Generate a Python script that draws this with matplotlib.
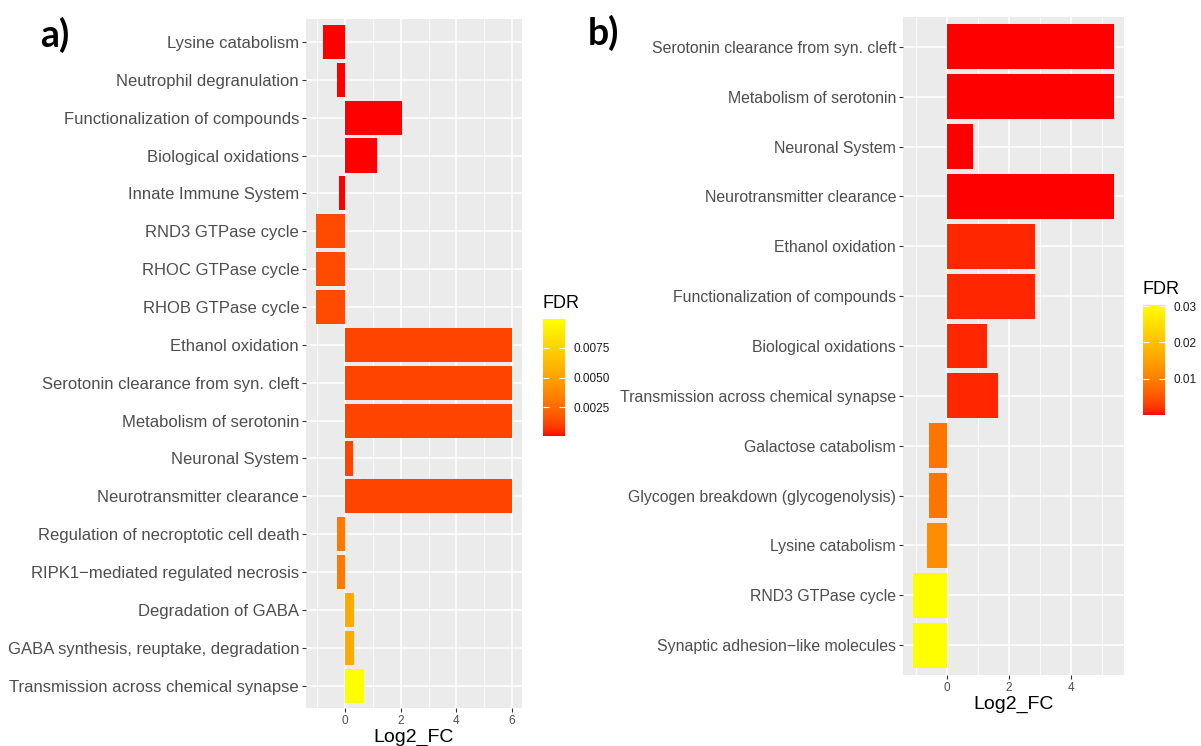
import numpy as np
import matplotlib
matplotlib.use("Agg")
import matplotlib.pyplot as plt
from matplotlib.colors import ListedColormap, Normalize
from matplotlib.cm import ScalarMappable

plt.rcParams['font.family'] = ['Liberation Sans', 'DejaVu Sans']

# panel a: enriched pathways (top to bottom)
terms_a = ["Lysine catabolism", "Neutrophil degranulation",
           "Functionalization of compounds", "Biological oxidations",
           "Innate Immune System", "RND3 GTPase cycle", "RHOC GTPase cycle",
           "RHOB GTPase cycle", "Ethanol oxidation",
           "Serotonin clearance from syn. cleft", "Metabolism of serotonin",
           "Neuronal System", "Neurotransmitter clearance",
           "Regulation of necroptotic cell death",
           "RIPK1\u2212mediated regulated necrosis", "Degradation of GABA",
           "GABA synthesis, reuptake, degradation",
           "Transmission across chemical synapse"]
fc_a = [-0.78, -0.3, 2.05, 1.15, -0.2, -1.05, -1.05, -1.05,
        6.0, 6.0, 6.0, 0.3, 6.0, -0.3, -0.3, 0.33, 0.33, 0.68]
fdr_a = [0.0001, 0.0001, 0.0001, 0.0001, 0.0001, 0.0014, 0.0014, 0.0014,
         0.0012, 0.0012, 0.0012, 0.0012, 0.0012, 0.0031, 0.0031,
         0.0054, 0.0054, 0.0099]

# panel b
terms_b = ["Serotonin clearance from syn. cleft", "Metabolism of serotonin",
           "Neuronal System", "Neurotransmitter clearance",
           "Ethanol oxidation", "Functionalization of compounds",
           "Biological oxidations", "Transmission across chemical synapse",
           "Galactose catabolism", "Glycogen breakdown (glycogenolysis)",
           "Lysine catabolism", "RND3 GTPase cycle",
           "Synaptic adhesion\u2212like molecules"]
fc_b = [5.4, 5.4, 0.85, 5.4, 2.85, 2.85, 1.3, 1.65,
        -0.6, -0.6, -0.65, -1.1, -1.1]
fdr_b = [0.0001, 0.0001, 0.0001, 0.0001, 0.0013, 0.0013, 0.0013, 0.0013,
         0.0089, 0.0089, 0.0122, 0.0303, 0.0303]

# red -> yellow gradient interpolated in CIE Lab, like ggplot's scale_fill_gradient
WHITE = np.array([0.95047, 1.0, 1.08883])
M = np.array([[0.4124, 0.3576, 0.1805],
              [0.2126, 0.7152, 0.0722],
              [0.0193, 0.1192, 0.9505]])


def to_lab(rgb):
    c = np.asarray(rgb, float)
    lin = np.where(c > 0.04045, ((c + 0.055) / 1.055) ** 2.4, c / 12.92)
    xyz = M @ lin / WHITE
    f = np.where(xyz > 0.008856, np.cbrt(xyz), 7.787 * xyz + 16 / 116)
    return np.array([116 * f[1] - 16, 500 * (f[0] - f[1]), 200 * (f[1] - f[2])])


def from_lab(lab):
    fy = (lab[:, 0] + 16) / 116
    f = np.stack([fy + lab[:, 1] / 500, fy, fy - lab[:, 2] / 200], axis=1)
    xyz = np.where(f > 0.2069, f ** 3, (f - 16 / 116) / 7.787) * WHITE
    lin = np.clip(xyz @ np.linalg.inv(M).T, 0, 1)
    return np.where(lin > 0.0031308, 1.055 * lin ** (1 / 2.4) - 0.055, 12.92 * lin)


t = np.linspace(0, 1, 256)[:, None]
lab_lo, lab_hi = to_lab([1, 0, 0]), to_lab([1, 1, 0])
cmap = ListedColormap(np.clip(from_lab(lab_lo + t * (lab_hi - lab_lo)), 0, 1))


def bar_panel(ax, cax, terms, fc, fdr, xticks, cticks, cfmt, lblsize):
    n = len(terms)
    y = np.arange(n)
    norm = Normalize(vmin=min(fdr), vmax=max(fdr))
    ax.barh(y, fc, height=0.9, color=cmap(norm(np.array(fdr))), zorder=3)
    lo, hi = min(min(fc), 0), max(fc)
    pad = 0.05 * (hi - lo)
    ax.set_xlim(lo - pad, hi + pad)
    ax.set_ylim(n - 0.4, -0.6)
    ax.set_yticks(y)
    ax.set_yticklabels(terms, fontsize=lblsize, color="#4D4D4D")
    ax.set_xticks(xticks)
    ax.set_xticklabels([str(v) for v in xticks], fontsize=8.5, color="#4D4D4D")
    ax.set_xticks(np.arange(-1, hi + pad, 2), minor=True)
    ax.set_facecolor("#EBEBEB")
    ax.grid(which="major", color="white", lw=1.1, zorder=0)
    ax.grid(which="minor", axis="x", color="white", lw=0.55, zorder=0)
    ax.set_axisbelow(True)
    for s in ax.spines.values():
        s.set_visible(False)
    ax.tick_params(which="major", color="#333333", length=3, width=0.8, pad=2)
    ax.tick_params(which="minor", length=0)
    ax.set_xlabel("Log2_FC", fontsize=14, labelpad=1)

    cb = plt.colorbar(ScalarMappable(norm=norm, cmap=cmap), cax=cax)
    cb.outline.set_visible(False)
    cb.set_ticks(cticks)
    cb.set_ticklabels([cfmt % v for v in cticks])
    cax.tick_params(direction="in", color="white", length=4, width=0.8,
                    left=True, right=True, labelsize=8.5, pad=6,
                    labelcolor="#1A1A1A")
    cax.set_title("FDR", fontsize=13, loc="left", pad=8)


fig = plt.figure(figsize=(12.01, 7.46), dpi=100)

ax_a = fig.add_axes([0.2548, 0.0504, 0.1798, 0.9239])
cax_a = fig.add_axes([0.4521, 0.4155, 0.0183, 0.1568])
bar_panel(ax_a, cax_a, terms_a, fc_a, fdr_a, [0, 2, 4, 6],
          [0.0025, 0.005, 0.0075], "%.4f", 12)

ax_b = fig.add_axes([0.7519, 0.0952, 0.184, 0.882])
cax_b = fig.add_axes([0.9517, 0.4437, 0.0183, 0.1475])
bar_panel(ax_b, cax_b, terms_b, fc_b, fdr_b, [0, 2, 4],
          [0.01, 0.02, 0.03], "%.2f", 11.4)

fig.text(0.033, 0.978, "a)", fontsize=27, fontweight="bold",
         family="Lato", va="top")
fig.text(0.489, 0.98, "b)", fontsize=27, fontweight="bold",
         family="Lato", va="top")

fig.savefig("out.png", dpi=100)
